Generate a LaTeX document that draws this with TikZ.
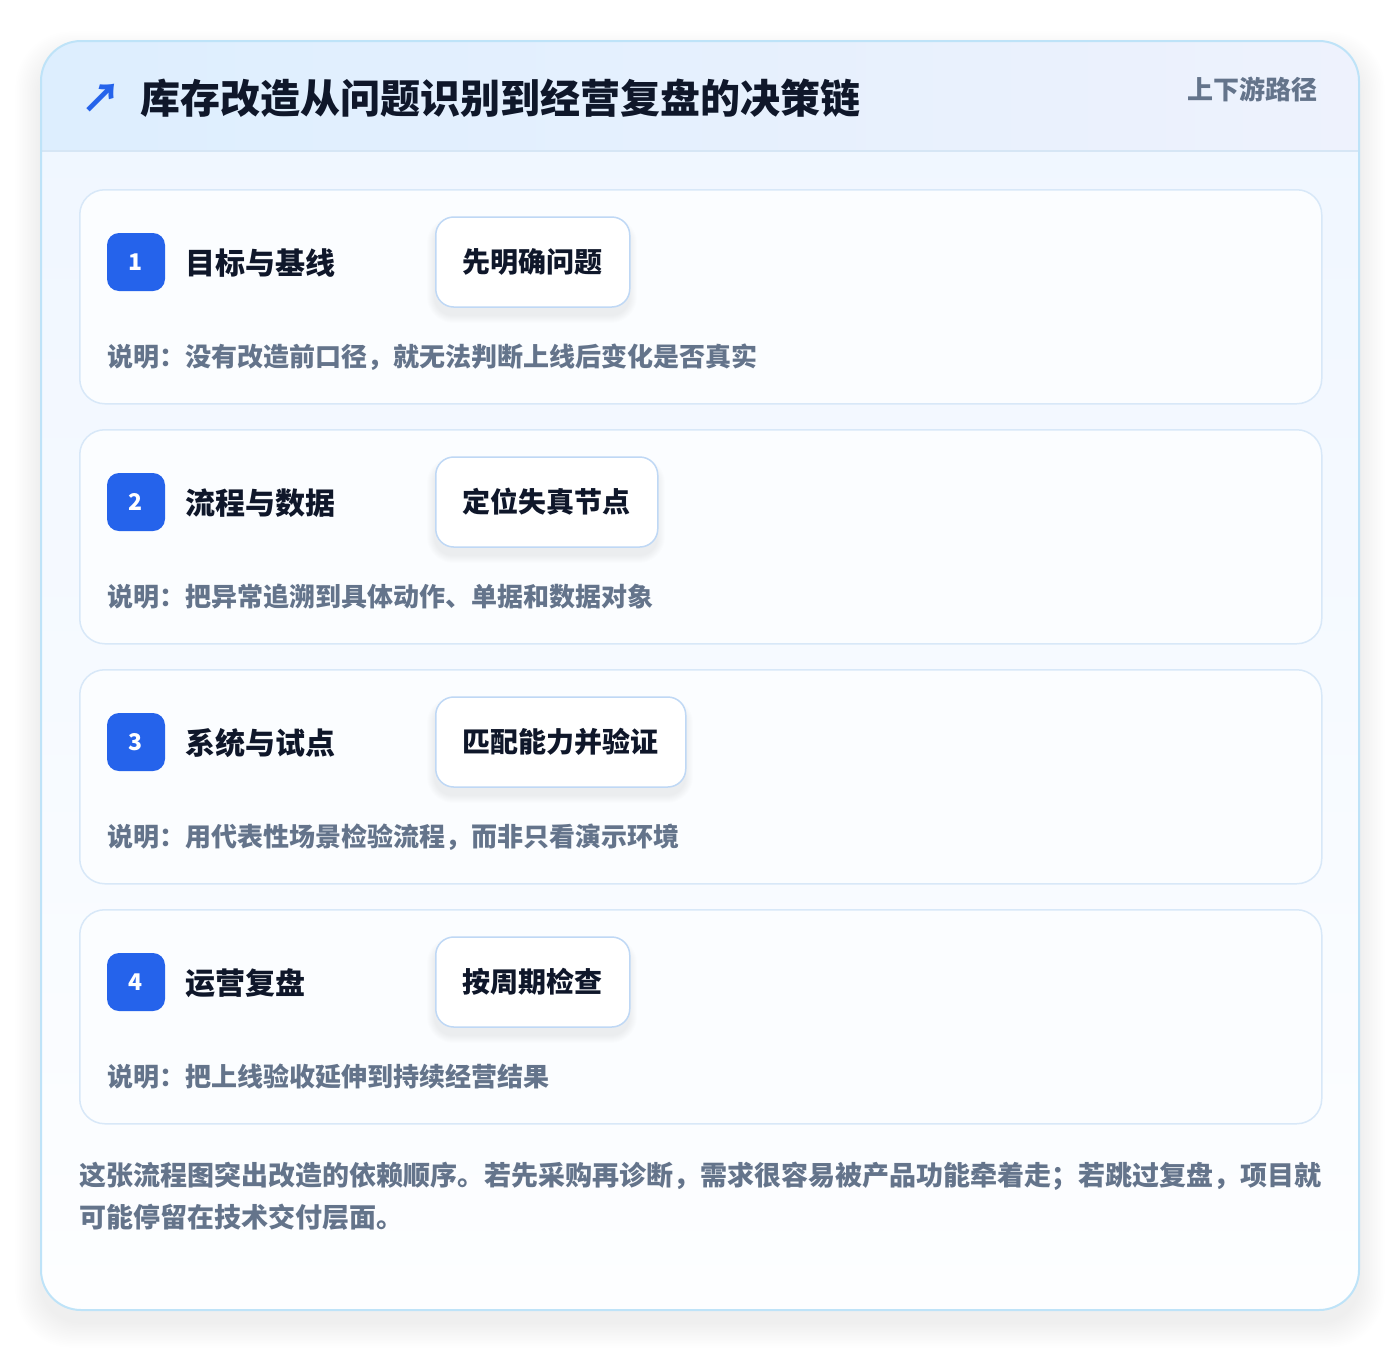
\documentclass[tikz,border=0pt]{standalone}
\usepackage{fontspec}
\setmainfont{Noto Sans CJK SC}
\definecolor{ink}{HTML}{0F172A}
\definecolor{muted}{HTML}{64748B}
\definecolor{badgeblue}{HTML}{2563EB}
\definecolor{cardline}{HTML}{D8E8F8}
\definecolor{tagline}{HTML}{BFD8F5}
\definecolor{panelline}{HTML}{BEE3F8}
\definecolor{hdrleft}{HTML}{DDEEFE}
\definecolor{hdrright}{HTML}{EEF2FD}
\definecolor{hdrline}{HTML}{D6E6F5}
\definecolor{paneltop}{HTML}{EFF6FF}
\definecolor{panelbottom}{HTML}{FDFEFF}
\definecolor{cardfill}{HTML}{FBFDFF}
\begin{document}
\begin{tikzpicture}[x=1pt,y=-1pt]
\tikzset{
  panel/.style={rounded corners=40pt},
  card/.style={draw=cardline,line width=1.5pt,fill=cardfill,rounded corners=25pt,minimum width=1242pt,minimum height=214pt,anchor=north west},
  badge/.style={fill=badgeblue,rounded corners=12pt,minimum width=58pt,minimum height=58pt,text=white,font=\fontsize{23}{23}\selectfont\bfseries},
  tag/.style={draw=tagline,line width=1.5pt,fill=white,rounded corners=18pt,minimum height=90pt,inner xsep=27pt,anchor=west,text=ink,font=\fontsize{28}{28}\selectfont\bfseries},
  heading/.style={anchor=west,inner sep=0pt,text=ink,font=\fontsize{30}{30}\selectfont\bfseries},
  note/.style={anchor=west,inner sep=0pt,text=muted,font=\fontsize{26}{26}\selectfont\bfseries}
}
\useasboundingbox (0,0) rectangle (1400,1352);
% soft shadow of the panel
\foreach \r in {1,...,16}
  \fill[black,opacity=0.0035,rounded corners=40pt+\r pt] (41-1.6*\r,41-1.6*\r+16) rectangle (1359+1.6*\r,1310+1.6*\r+12);
% outer panel
\shade[panel,top color=paneltop,bottom color=panelbottom] (41,41) rectangle (1359,1310);
\begin{scope}
  \clip[panel] (41,41) rectangle (1359,1310);
  \shade[left color=hdrleft,right color=hdrright] (41,41) rectangle (1359,151);
  \draw[hdrline,line width=1.5pt] (41,151) -- (1359,151);
\end{scope}
\draw[panel,panelline,line width=2pt] (41,41) rectangle (1359,1310);
% header
\node[text=badgeblue,font=\fontsize{40}{40}\selectfont\bfseries,inner sep=0pt] (icon) at (101,98) {↗};
\node[anchor=west,inner sep=0pt,text=ink,font=\fontsize{40}{40}\selectfont\bfseries] (title) at (140,98) {库存改造从问题识别到经营复盘的决策链};
\node[anchor=east,inner sep=0pt,text=muted,font=\fontsize{26}{26}\selectfont\bfseries] (route) at (1318,89) {上下游路径};
% steps
\foreach \i/\w/\head/\tagtext/\desc in {
  1/194/目标与基线/先明确问题/说明：没有改造前口径，就无法判断上线后变化是否真实,
  2/222/流程与数据/定位失真节点/说明：把异常追溯到具体动作、单据和数据对象,
  3/250/系统与试点/匹配能力并验证/说明：用代表性场景检验流程，而非只看演示环境,
  4/194/运营复盘/按周期检查/说明：把上线验收延伸到持续经营结果}{
  \pgfmathsetmacro\top{189+240*(\i-1)}
  \node[card] (card\i) at (79,\top) {};
  \node[badge] (num\i) at (136,\top+73) {\i};
  \node[heading] (head\i) at (185,\top+74) {\head};
  \foreach \r in {1,...,8}
    \fill[black,opacity=0.007,rounded corners=18pt+\r pt] (435-\r,\top+28-\r+8) rectangle (435+\w+\r,\top+118+\r+8);
  \node[tag,minimum width=\w pt] (tag\i) at (435,\top+73) {\tagtext};
  \node[note] (desc\i) at (107,\top+168) {\desc};
}
% summary
\node[anchor=base west,inner sep=0pt,align=left,text=muted,font=\fontsize{27}{42}\selectfont\bfseries] (summary) at (79,1227) {这张流程图突出改造的依赖顺序。若先采购再诊断，需求很容易被产品功能牵着走；若跳过复盘，项目就\\可能停留在技术交付层面。};
\end{tikzpicture}
\end{document}
